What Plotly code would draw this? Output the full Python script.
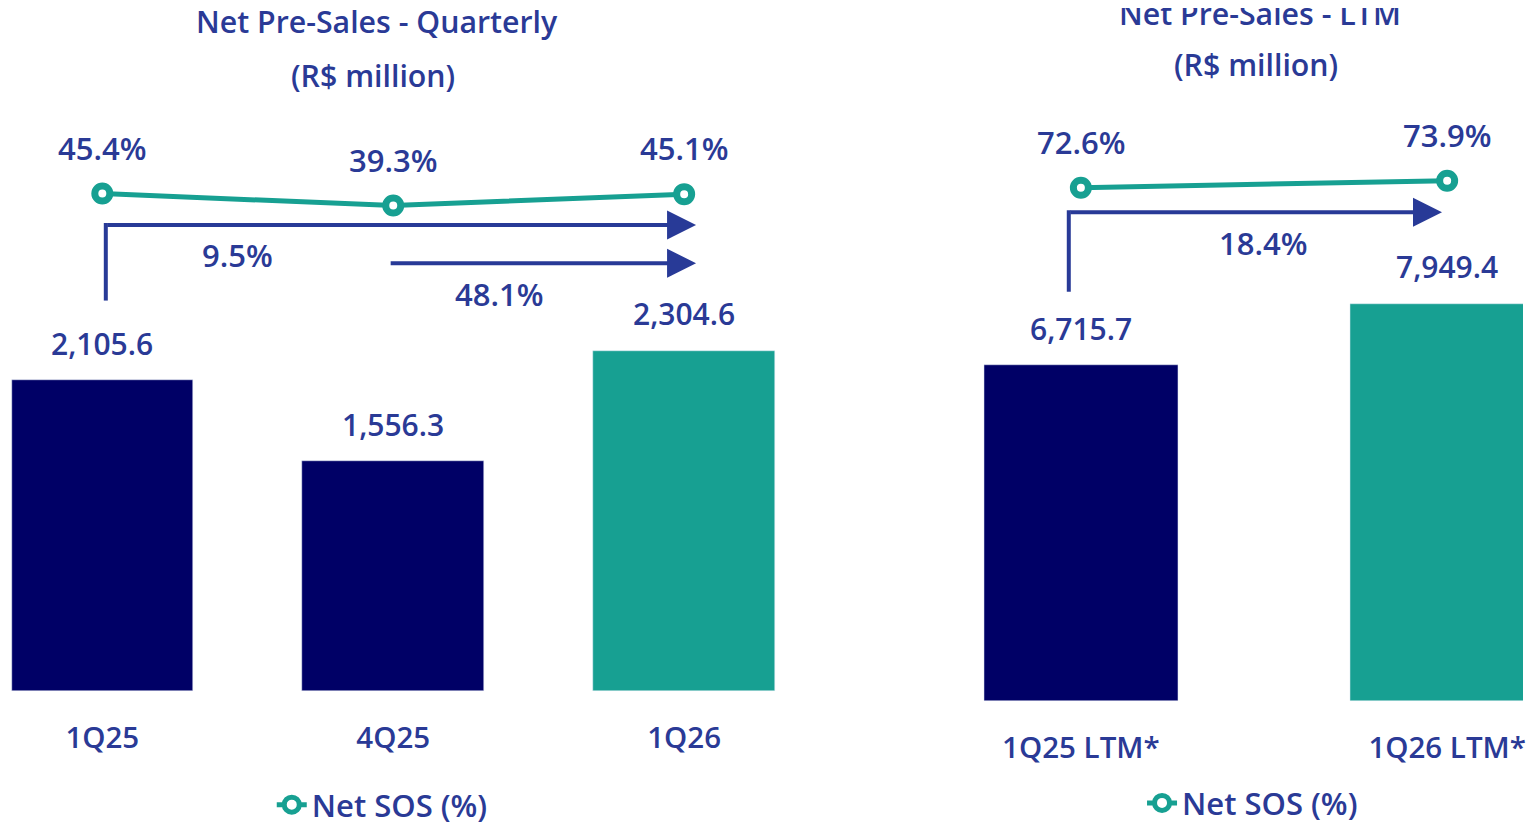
import plotly.graph_objects as go

# ---- data ----
q_categories = ["1Q25", "4Q25", "1Q26"]
q_presales = [2105.6, 1556.3, 2304.6]
q_sos = [45.4, 39.3, 45.1]
ltm_categories = ["1Q25 LTM*", "1Q26 LTM*"]
ltm_presales = [6715.7, 7949.4]
ltm_sos = [72.6, 73.9]
growth_q_yoy = "9.5%"
growth_q_qoq = "48.1%"
growth_ltm = "18.4%"

NAVY = "#000066"
TEAL = "#17A092"
TXT = "#2A3A96"
ARROW = "#283A97"
FONT = "Open Sans"

# the page body has an 8px margin; size the figure so the page fits the window exactly
OFF = 8
W, H = 1534 - 2 * OFF, 840 - 2 * OFF

def gx(sx):            # window px -> figure px
    return sx - OFF

def gy(sy):
    return sy - OFF

def fx(sx):            # window px -> paper fraction
    return gx(sx) / W

def fy(sy):
    return 1 - gy(sy) / H

def fmt_num(v):
    return f"{v:,.1f}"

NUMF = dict(size=30, color=TXT, weight=600)
PCTF = dict(size=31, color=TXT, weight=600)
TXTF = dict(size=30.3, color=TXT, weight=600)

fig = go.Figure()

marker = dict(size=15, color="white", line=dict(color=TEAL, width=7))
fig.add_trace(go.Bar(x=q_categories, y=q_presales, marker_color=[NAVY, NAVY, TEAL],
                     width=0.624, xaxis="x", yaxis="y", showlegend=False, hoverinfo="skip"))
fig.add_trace(go.Scatter(x=q_categories, y=q_sos, mode="lines+markers", name="Net SOS (%)",
                         line=dict(color=TEAL, width=5), marker=marker,
                         xaxis="x", yaxis="y3", legend="legend"))
fig.add_trace(go.Bar(x=ltm_categories, y=ltm_presales, marker_color=[NAVY, TEAL],
                     width=0.529, xaxis="x2", yaxis="y2", showlegend=False, hoverinfo="skip"))
fig.add_trace(go.Scatter(x=ltm_categories, y=ltm_sos, mode="lines+markers", name="Net SOS (%)",
                         line=dict(color=TEAL, width=5), marker=marker,
                         xaxis="x2", yaxis="y4", legend="legend2"))

annotations = []
for c, v in zip(q_categories, q_presales):
    annotations.append(dict(x=c, y=v, xref="x", yref="y", text=fmt_num(v), showarrow=False,
                            xanchor="center", yanchor="middle", yshift=37, font=NUMF))
for c, v in zip(ltm_categories, ltm_presales):
    annotations.append(dict(x=c, y=v, xref="x2", yref="y2", text=fmt_num(v), showarrow=False,
                            xanchor="center", yanchor="middle", yshift=37, font=NUMF))
for c, v in zip(q_categories, q_sos):
    annotations.append(dict(x=c, y=v, xref="x", yref="y3", text=f"{v:.1f}%", showarrow=False,
                            xanchor="center", yanchor="middle", yshift=46, font=PCTF))
for c, v in zip(ltm_categories, ltm_sos):
    annotations.append(dict(x=c, y=v, xref="x2", yref="y4", text=f"{v:.1f}%", showarrow=False,
                            xanchor="center", yanchor="middle", yshift=46, font=PCTF))

def ptext(text, x, y, font):
    return dict(x=fx(x), y=fy(y), xref="paper", yref="paper", text=text, showarrow=False,
                xanchor="center", yanchor="middle", font=font)

annotations += [
    ptext("Net Pre-Sales - Quarterly", 378, 22, TXTF),
    ptext("(R$ million)", 374, 77, TXTF),
    ptext("Net Pre-Sales - LTM", 1262, 14, TXTF),
    ptext("(R$ million)", 1258, 66, TXTF),
    ptext(growth_q_yoy, 238, 260, PCTF),
    ptext(growth_q_qoq, 500, 299, PCTF),
    ptext(growth_ltm, 1265, 247, PCTF),
]

def arrow(x_from, x_to, ypx, xref):
    return dict(x=x_to, y=fy(ypx), xref=xref, yref="paper", ax=x_from, ay=0,
                axref=xref, ayref="pixel", showarrow=True, arrowhead=2, arrowsize=1.45,
                arrowwidth=4, arrowcolor=ARROW, text="")

annotations.append(arrow(0.012, 2.041, 229, "x"))
annotations.append(arrow(0.986, 2.041, 268, "x"))
annotations.append(arrow(-0.033, 0.986, 216, "x2"))

shapes = [
    dict(type="line", xref="x", yref="paper", x0=0.012, x1=0.012, y0=fy(306), y1=fy(227),
         line=dict(color=ARROW, width=4)),
    dict(type="line", xref="x2", yref="paper", x0=-0.033, x1=-0.033, y0=fy(297), y1=fy(214),
         line=dict(color=ARROW, width=4)),
]

# axis geometry from window measurements
q_c0, q_step = gx(102.5), 291.5
l_c0, l_step = gx(1083), 367.0
q_right = 2.4
l_left = gx(900)
q_bottom, l_bottom = gy(704), gy(714)
q_scale = 0.1505          # px per R$ million (quarterly)
l_scale = 0.05094         # px per R$ million (LTM)
q_pct = 2.0               # px per SOS point (quarterly)
l_pct = 5.38              # px per SOS point (LTM)
q_r0 = q_sos[0] - (q_bottom - gy(197)) / q_pct
l_r0 = ltm_sos[0] - (l_bottom - gy(191)) / l_pct

axis_font = dict(size=29.5, color=TXT, weight=600)
fig.update_layout(
    width=W, height=H, margin=dict(l=0, r=0, t=0, b=0),
    paper_bgcolor="white", plot_bgcolor="white",
    font=dict(family=FONT, color=TXT),
    bargap=0,
    xaxis=dict(domain=[0, (q_c0 + q_right * q_step) / W], range=[-q_c0 / q_step, q_right],
               showgrid=False, zeroline=False, showline=False, ticks="", tickfont=axis_font,
               ticklabelstandoff=26, anchor="y"),
    yaxis=dict(domain=[1 - q_bottom / H, 1], range=[0, q_bottom / q_scale], visible=False,
               anchor="x"),
    yaxis3=dict(domain=[1 - q_bottom / H, 1], overlaying="y",
                range=[q_r0, q_r0 + q_bottom / q_pct], visible=False, anchor="x"),
    xaxis2=dict(domain=[l_left / W, 1],
                range=[-(l_c0 - l_left) / l_step, 1 + (W - (l_c0 + l_step)) / l_step],
                showgrid=False, zeroline=False, showline=False, ticks="", tickfont=axis_font,
                ticklabelstandoff=26, anchor="y2"),
    yaxis2=dict(domain=[1 - l_bottom / H, 1], range=[0, l_bottom / l_scale], visible=False,
                anchor="x2"),
    yaxis4=dict(domain=[1 - l_bottom / H, 1], overlaying="y2",
                range=[l_r0, l_r0 + l_bottom / l_pct], visible=False, anchor="x2"),
    legend=dict(x=fx(383), y=fy(820), xanchor="center", yanchor="middle",
                font=dict(size=31, color=TXT, weight=600), bgcolor="rgba(0,0,0,0)"),
    legend2=dict(x=fx(1255), y=fy(818), xanchor="center", yanchor="middle",
                 font=dict(size=31, color=TXT, weight=600), bgcolor="rgba(0,0,0,0)"),
    annotations=annotations, shapes=shapes,
)

fig.write_html("out.html")
